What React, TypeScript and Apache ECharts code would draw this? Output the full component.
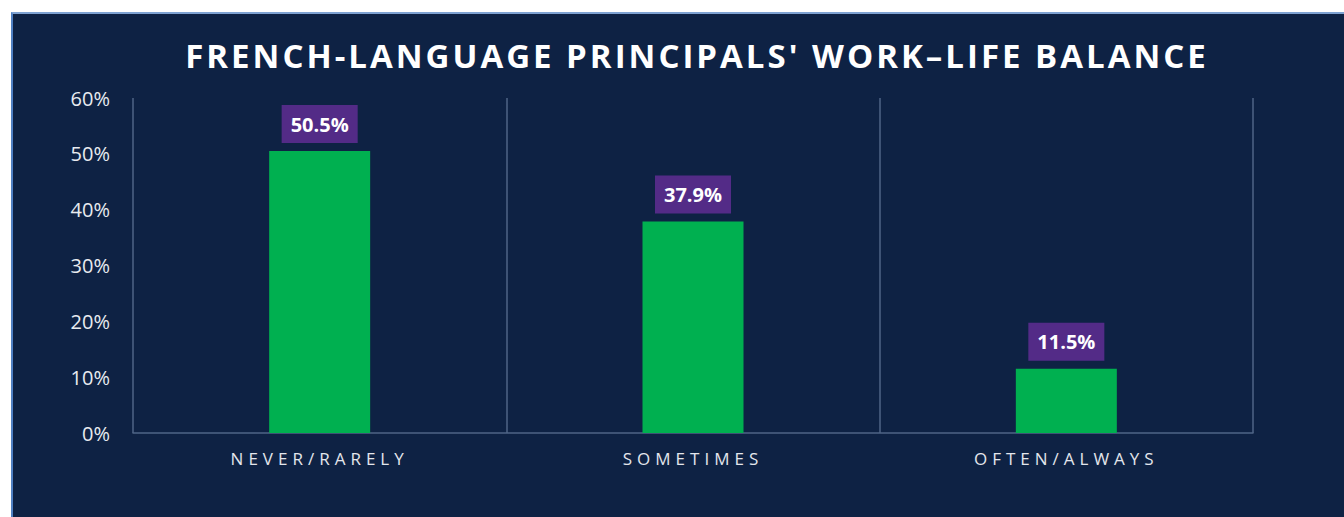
import React, { useEffect, useRef } from "react";
import * as echarts from "echarts";

const categories = ["NEVER/RARELY", "SOMETIMES", "OFTEN/ALWAYS"];
const values = [50.5, 37.9, 11.5];
const yTicks = [0, 10, 20, 30, 40, 50, 60];
const titleText = "FRENCH-LANGUAGE PRINCIPALS' WORK\u2013LIFE BALANCE";

const FONT = "'Open Sans', 'Noto Sans', sans-serif";

export default function App() {
  const ref = useRef<HTMLDivElement>(null);
  useEffect(() => {
    if (!ref.current) return;
    const chart = echarts.init(ref.current, null, { renderer: "svg" });
    chart.setOption({
      animation: false,
      backgroundColor: "transparent",
      grid: { left: 133, right: 91, top: 98, bottom: 84, containLabel: false },
      graphic: [
        {
          type: "text",
          x: 697,
          y: 55,
          style: {
            text: titleText,
            fill: "#ffffff",
            font: `bold 33px ${FONT}`,
            textAlign: "center",
            textVerticalAlign: "middle",
          },
        },
      ],
      xAxis: {
        type: "category",
        data: categories,
        axisLine: { show: true, lineStyle: { color: "#4f6586", width: 1.5 } },
        axisTick: { show: false },
        splitLine: { show: true, lineStyle: { color: "#4f6586", width: 1.5 } },
        axisLabel: {
          color: "#e3e6ec",
          fontSize: 17,
          fontFamily: FONT,
          margin: 17,
        },
      },
      yAxis: {
        type: "value",
        min: 0,
        max: yTicks[yTicks.length - 1],
        interval: 10,
        axisLine: { show: false },
        axisTick: { show: false },
        splitLine: { show: false },
        axisLabel: {
          color: "#e8ebf0",
          fontSize: 20,
          fontFamily: FONT,
          margin: 23,
          formatter: (v: number) => `${v}%`,
        },
      },
      series: [
        {
          type: "bar",
          data: values,
          barWidth: 101,
          itemStyle: { color: "#00b050" },
          label: {
            show: true,
            position: "top",
            distance: 8,
            formatter: (p: any) => `${p.value.toFixed(1)}%`,
            color: "#ffffff",
            fontSize: 20,
            fontWeight: "bold",
            fontFamily: FONT,
            backgroundColor: "#532b87",
            padding: [8, 9, 8, 9],
            lineHeight: 22,
          },
        },
      ],
    });
    return () => chart.dispose();
  }, []);

  return (
    <div
      style={{
        position: "absolute",
        left: 0,
        top: 0,
        width: 1344,
        height: 517,
        background: "#ffffff",
        overflow: "hidden",
      }}
    >
      <style>{`
        #chartbox text[style*="33px"] { letter-spacing: 3px; }
        #chartbox text[style*="17px"] { letter-spacing: 5px; }
      `}</style>
      <div
        style={{
          position: "absolute",
          left: 11,
          top: 12,
          right: 0,
          bottom: 0,
          background: "#0e2244",
          borderTop: "2px solid #7ea2d2",
          borderLeft: "2px solid #4f80c3",
        }}
      />
      <div
        id="chartbox"
        ref={ref}
        style={{ position: "absolute", left: 0, top: 0, width: 1344, height: 517 }}
      />
    </div>
  );
}
